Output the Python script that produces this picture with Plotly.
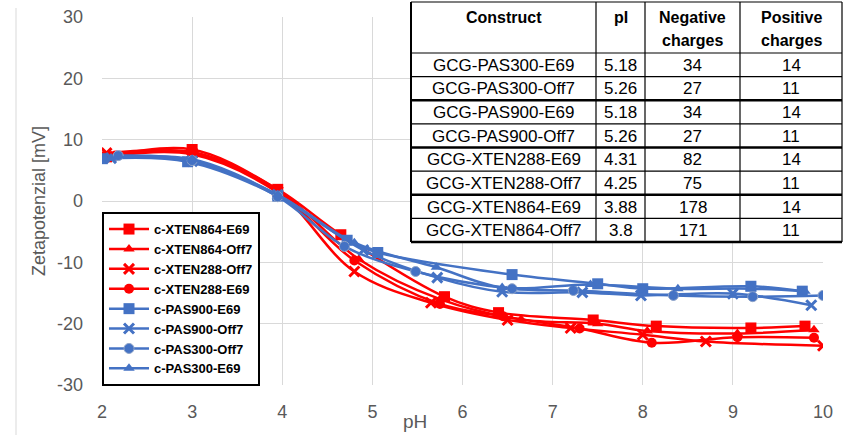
import plotly.graph_objects as go

# ---------------- data ----------------
series_names = ["c-XTEN864-E69", "c-XTEN864-Off7", "c-XTEN288-Off7", "c-XTEN288-E69",
                "c-PAS900-E69", "c-PAS900-Off7", "c-PAS300-Off7", "c-PAS300-E69"]

ph_xten864_e69 = [2.05, 3.0, 3.95, 4.65, 5.8, 6.4, 7.45, 8.15, 9.2, 9.8]
zp_xten864_e69 = [7.2, 8.4, 1.9, -5.5, -15.6, -18.2, -19.4, -20.4, -20.7, -20.4]

ph_xten864_off7 = [2.1, 3.0, 3.95, 4.85, 5.75, 6.65, 7.5, 8.05, 9.05, 9.9]
zp_xten864_off7 = [7.3, 8.0, 1.8, -9.5, -16.0, -19.3, -20.0, -21.2, -21.6, -21.0]

ph_xten288_off7 = [2.05, 3.0, 3.95, 4.8, 5.65, 6.5, 7.2, 8.0, 8.7, 10.0]
zp_xten288_off7 = [7.8, 7.8, 1.5, -11.5, -16.6, -19.4, -20.7, -21.8, -22.9, -23.6]

ph_xten288_e69 = [2.15, 3.0, 3.95, 4.8, 5.75, 6.45, 7.3, 8.1, 9.05, 9.9]
zp_xten288_e69 = [7.4, 7.6, 1.4, -9.7, -16.8, -18.8, -20.8, -23.1, -22.2, -22.3]

ph_pas900_e69 = [2.0, 2.95, 3.95, 4.72, 5.06, 6.55, 7.5, 8.0, 9.2, 9.77]
zp_pas900_e69 = [6.9, 6.4, 0.8, -6.4, -8.4, -12.0, -13.5, -14.3, -13.9, -14.7]

ph_pas900_off7 = [2.1, 3.0, 3.95, 4.9, 5.72, 6.44, 7.33, 7.98, 9.0, 9.87]
zp_pas900_off7 = [7.0, 6.5, 1.0, -8.0, -12.5, -14.8, -14.9, -15.4, -15.1, -17.0]

ph_pas300_off7 = [2.18, 3.0, 3.95, 4.69, 5.48, 6.55, 7.23, 8.34, 9.22, 10.0]
zp_pas300_off7 = [7.4, 6.6, 0.7, -7.4, -11.5, -14.3, -14.6, -15.4, -15.6, -15.4]

ph_pas300_e69 = [2.1, 3.0, 3.95, 4.8, 5.71, 6.44, 7.42, 8.39, 9.2, 9.8]
zp_pas300_e69 = [7.0, 6.8, 1.0, -6.8, -10.8, -14.1, -13.6, -14.3, -14.3, -14.7]

x_ticks = [2, 3, 4, 5, 6, 7, 8, 9, 10]
y_ticks = [-30, -20, -10, 0, 10, 20, 30]

table_header = [["Construct"], ["pI"], ["Negative", "charges"], ["Positive", "charges"]]
table_construct = ["GCG-PAS300-E69", "GCG-PAS300-Off7", "GCG-PAS900-E69", "GCG-PAS900-Off7",
                   "GCG-XTEN288-E69", "GCG-XTEN288-Off7", "GCG-XTEN864-E69", "GCG-XTEN864-Off7"]
table_pi = ["5.18", "5.26", "5.18", "5.26", "4.31", "4.25", "3.88", "3.8"]
table_neg = ["34", "27", "34", "27", "82", "75", "178", "171"]
table_pos = ["14", "11", "14", "11", "14", "11", "14", "11"]

# ---------------- styles ----------------
RED = "#FF0000"
BLUE = "#4472C4"
xs = [ph_xten864_e69, ph_xten864_off7, ph_xten288_off7, ph_xten288_e69,
      ph_pas900_e69, ph_pas900_off7, ph_pas300_off7, ph_pas300_e69]
ys = [zp_xten864_e69, zp_xten864_off7, zp_xten288_off7, zp_xten288_e69,
      zp_pas900_e69, zp_pas900_off7, zp_pas300_off7, zp_pas300_e69]
colors = [RED] * 4 + [BLUE] * 4
symbols = ["square", "triangle-up", "x-thin", "circle", "square", "x-thin", "circle", "triangle-up"]
sizes = [11, 10, 10, 10, 11, 10, 10, 10]

W, H = 843, 435
ML, MR, MT, MB = 102, 20, 17, 50
PW, PH = W - ML - MR, H - MT - MB


def px(x):
    return (x - ML) / PW


def py(y):
    return (H - MB - y) / PH


fig = go.Figure()
for name, x, y, c, s, sz in zip(series_names, xs, ys, colors, symbols, sizes):
    marker = dict(symbol=s, size=sz, color=c)
    if s == "x-thin":
        marker["line"] = dict(color=c, width=3)
    elif s == "circle" and c == BLUE:
        marker["line"] = dict(color="#8EA3C8", width=1)
    fig.add_trace(go.Scatter(
        x=x, y=y, name=name, mode="lines+markers",
        line=dict(color=c, width=2.5, shape="spline", smoothing=1.0),
        marker=marker, hoverinfo="skip"))

shapes = []
annotations = []

# outer frame line at left
shapes.append(dict(type="line", xref="paper", yref="paper", x0=px(16), x1=px(16),
                   y0=py(8), y1=py(435), line=dict(color="#D9D9D9", width=1), layer="below"))

# table
col_edges = [411, 596, 645, 740, 842]
header_top, header_bot, table_bot = 2, 53, 242
n_rows = len(table_construct)
row_h = (table_bot - header_bot) / n_rows
row_edges = [header_top] + [header_bot + i * row_h for i in range(n_rows + 1)]
thick_idx = {3, 5, 7, 9}
shapes.append(dict(type="rect", xref="paper", yref="paper",
                   x0=px(col_edges[0]), x1=px(col_edges[-1]), y0=py(table_bot), y1=py(header_top),
                   fillcolor="white", line=dict(width=0), layer="above"))
for cx in col_edges:
    shapes.append(dict(type="line", xref="paper", yref="paper", x0=px(cx), x1=px(cx),
                       y0=py(header_top), y1=py(table_bot),
                       line=dict(color="black", width=2 if cx == col_edges[0] else 1.2), layer="above"))
for i, ry in enumerate(row_edges):
    shapes.append(dict(type="line", xref="paper", yref="paper", x0=px(col_edges[0]), x1=px(col_edges[-1]),
                       y0=py(ry), y1=py(ry),
                       line=dict(color="black", width=2.5 if i in thick_idx else 1.2), layer="above"))

col_centers = [(col_edges[i] + col_edges[i + 1]) / 2 for i in range(4)]
for ci, lines in enumerate(table_header):
    for li, t in enumerate(lines):
        annotations.append(dict(xref="paper", yref="paper", x=px(col_centers[ci]), y=py(17 + 23 * li),
                                text="<b>%s</b>" % t, showarrow=False, xanchor="center", yanchor="middle",
                                font=dict(family="Liberation Sans, Arial", size=16, color="black")))
for ri in range(n_rows):
    yc = (row_edges[ri + 1] + row_edges[ri + 2]) / 2
    for ci, col in enumerate([table_construct, table_pi, table_neg, table_pos]):
        annotations.append(dict(xref="paper", yref="paper", x=px(col_centers[ci]), y=py(yc + 0.5),
                                text=col[ri], showarrow=False, xanchor="center", yanchor="middle",
                                font=dict(family="Liberation Sans, Arial", size=17, color="black")))

# x axis title
annotations.append(dict(xref="paper", yref="paper", x=px(415), y=py(421), text="pH", showarrow=False,
                        xanchor="center", yanchor="middle",
                        font=dict(family="Liberation Sans, Arial", size=19, color="#595959")))

fig.update_layout(
    width=W, height=H,
    margin=dict(l=ML, r=MR, t=MT, b=MB, autoexpand=False),
    paper_bgcolor="white", plot_bgcolor="white",
    font=dict(family="Liberation Sans, Arial", color="#595959"),
    showlegend=True,
    legend=dict(x=0, y=-0.003, xanchor="left", yanchor="bottom",
                bgcolor="white", bordercolor="black", borderwidth=2,
                font=dict(family="Liberation Sans, Arial", size=13, color="black", weight="bold"),
                itemwidth=40, tracegroupgap=0),
    shapes=shapes, annotations=annotations,
    xaxis=dict(range=[2, 10], tickvals=x_ticks, ticktext=[str(v) for v in x_ticks],
               showgrid=True, gridcolor="#D9D9D9", gridwidth=1, zeroline=False, automargin=False,
               showline=False, ticks="", ticklabelstandoff=14,
               tickfont=dict(size=18, color="#595959")),
    yaxis=dict(range=[-30, 30], tickvals=y_ticks, ticktext=[str(v) for v in y_ticks],
               showgrid=True, gridcolor="#D9D9D9", gridwidth=1, zeroline=False, automargin=False,
               showline=False, ticks="", ticklabelstandoff=18,
               tickfont=dict(size=18, color="#595959"),
               title=dict(text="Zetapotenzial [mV]", standoff=6,
                          font=dict(size=18, color="#595959"))),
)

fig.write_html("out.html", config={"displayModeBar": False},
               post_script="document.body.style.margin='0';document.body.style.overflow='hidden';")
